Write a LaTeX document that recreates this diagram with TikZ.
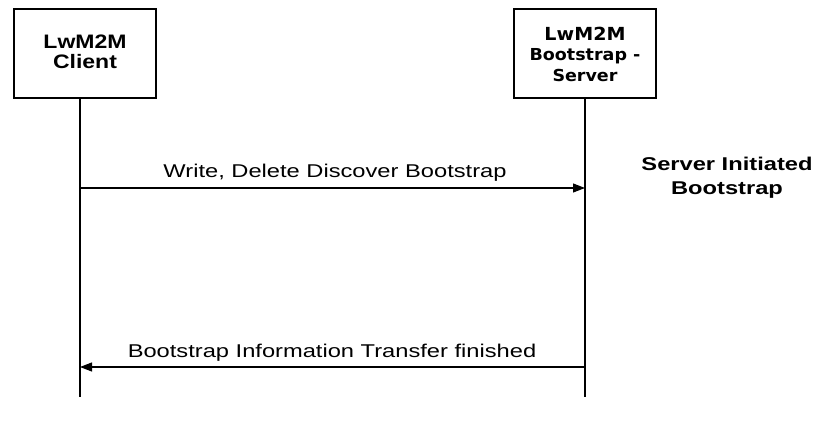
\documentclass[tikz,border=0pt]{standalone}
\usepackage{fontspec}
\usetikzlibrary{arrows.meta}
\newfontfamily\msgfont[FakeStretch=1.28]{Liberation Sans}
\newfontfamily\notefont[FakeStretch=1.28]{Liberation Sans Bold}
\newfontfamily\clientfont[FakeStretch=1.18]{Liberation Sans Bold}
\newfontfamily\srvfont[FakeStretch=1.06]{DejaVu Sans Bold}
\tikzset{
  actor/.style={draw=black, line width=1.3pt, fill=white, inner sep=0pt},
  lifeline/.style={draw=black, line width=1.1pt},
  msg/.style={draw=black, line width=1.1pt, -{Triangle[length=12pt,width=9pt]}},
  msglabel/.style={font=\msgfont\fontsize{18.5}{20}\selectfont, anchor=base, inner sep=0pt},
  note/.style={font=\notefont\fontsize{18.5}{24}\selectfont, align=center, inner sep=0pt},
}
\begin{document}
\begin{tikzpicture}[x=1pt,y=-1pt]
  \useasboundingbox (0,0) rectangle (815,425);
  % participant boxes
  \node[actor, minimum width=142pt, minimum height=89pt] (client) at (85,53.5) {};
  \node[actor, minimum width=142pt, minimum height=89pt] (server) at (585,53.5) {};
  \node[font=\clientfont\fontsize{19.5}{20}\selectfont, align=center, inner sep=0pt] (clientlbl) at (85,52) {LwM2M\\Client};
  \node[font=\srvfont\fontsize{16.5}{20.5}\selectfont, align=center, inner sep=0pt] (serverlbl) at (585,54)
    {{\fontsize{18}{20.5}\selectfont LwM2M}\\Bootstrap -\\Server};
  % lifeline ends
  \coordinate (cend) at (80,397);
  \coordinate (send) at (585,397);
  \coordinate (ctop) at (80,98);
  \draw[lifeline] (ctop) -- (cend);
  \draw[lifeline] (server.south) -- (send);
  % messages
  \coordinate (m1c) at (80,188);
  \coordinate (m1s) at (585,188);
  \coordinate (m2c) at (80,367);
  \coordinate (m2s) at (585,367);
  \draw[msg] (m1c) -- (m1s);
  \draw[msg] (m2s) -- (m2c);
  \node[msglabel] (l1) at (335,178) {Write, Delete Discover Bootstrap};
  \node[msglabel] (l2) at (332,357) {Bootstrap Information Transfer finished};
  % side note
  \node[note] (sidenote) at (727,178) {Server Initiated\\Bootstrap};
\end{tikzpicture}
\end{document}
